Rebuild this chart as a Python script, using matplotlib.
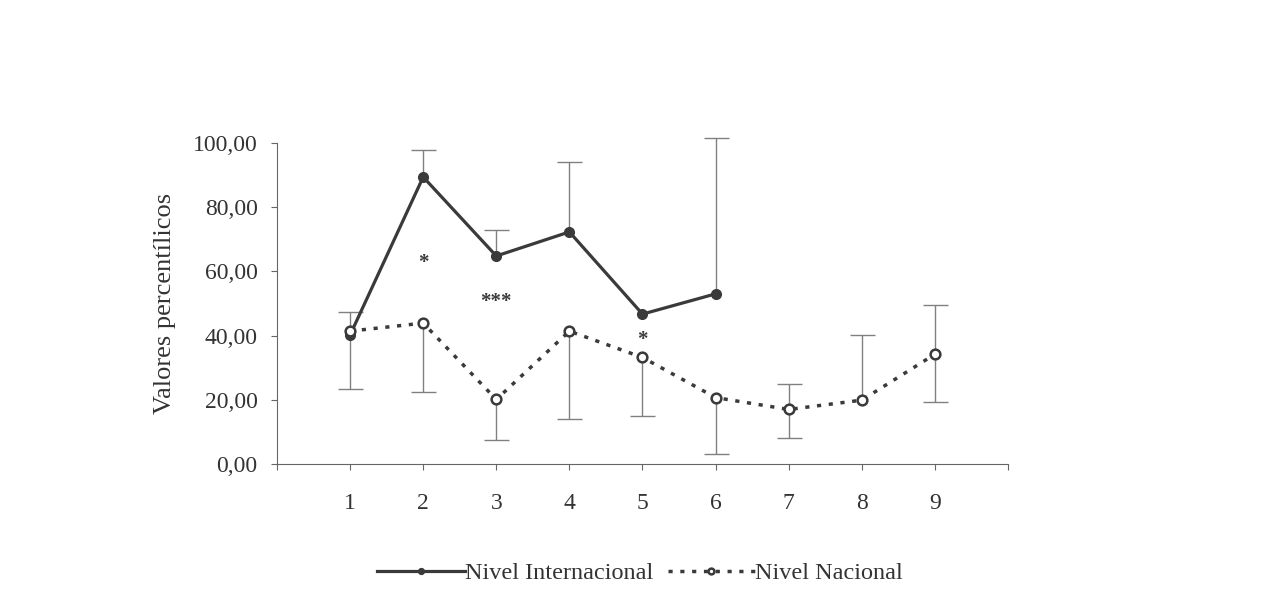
import matplotlib.pyplot as plt
import numpy as np

plt.rcParams['font.family'] = ['Liberation Serif', 'DejaVu Serif']

# data
x_int = [1, 2, 3, 4, 5, 6]
internacional = [40.2, 89.4, 64.8, 72.3, 46.7, 53.0]
int_upper = [47.4, 97.8, 72.9, 94.0, 46.7, 101.6]

x_nac = [1, 2, 3, 4, 5, 6, 7, 8, 9]
nacional = [41.4, 43.9, 20.1, 41.4, 33.2, 20.7, 17.0, 19.9, 34.2]
nac_lower = [23.4, 22.4, 7.5, 14.0, 15.1, 3.0, 8.2, 19.9, 19.3]
nac_upper = [41.4, 43.9, 20.1, 41.4, 33.2, 20.7, 24.9, 40.2, 49.5]

stars = ['*', '***', '*']
star_x = [2, 3, 5]
star_y = [62.5, 50.5, 38.5]

col = '#3a3a3a'
ecol = '#808080'

fig = plt.figure(figsize=(12.8, 6.1), dpi=100)
ax = fig.add_axes([0.2164, 0.2393, 0.5711, 0.5263])


def one_sided(xs, vals, ends, up):
    # draw only the bars that exist, with a cap only on the far end
    xs = np.array(xs, float)
    vals = np.array(vals, float)
    ends = np.array(ends, float)
    keep = np.abs(ends - vals) > 0.01
    d = np.abs(ends - vals)[keep]
    z = np.zeros_like(d)
    err = [z, d] if up else [d, z]
    _, caps, _ = ax.errorbar(xs[keep], vals[keep], yerr=err, fmt='none',
                             ecolor=ecol, elinewidth=1, capsize=9, capthick=1,
                             clip_on=False)
    caps[0 if up else 1].set_visible(False)
    for c in caps:
        c.set_clip_on(False)


one_sided(x_int, internacional, int_upper, True)
one_sided(x_nac, nacional, nac_lower, False)
one_sided(x_nac, nacional, nac_upper, True)

ax.plot(x_int, internacional, color=col, lw=2.3, marker='o', ms=7,
        label='Nivel Internacional', clip_on=False, zorder=3)
ax.plot(x_nac, nacional, color=col, lw=2.5, linestyle=(0, (1.2, 2.2)),
        marker='o', ms=7, mfc='white', mec=col, mew=1.8,
        label='Nivel Nacional', clip_on=False, zorder=3)

for s, sx, sy in zip(stars, star_x, star_y):
    ax.text(sx, sy, s, ha='center', va='center', fontsize=15, color=col,
            fontweight='bold')

ax.set_xlim(0, 10)
ax.set_ylim(0, 100)
ax.set_xticks(range(0, 11))
ax.set_xticklabels([''] + [str(i) for i in range(1, 10)] + [''])
ax.set_yticks([0, 20, 40, 60, 80, 100])
ax.set_yticklabels(['0,00', '20,00', '40,00', '60,00', '80,00', '100,00'])
ax.tick_params(axis='both', labelsize=17, colors='#333333', length=4)
ax.tick_params(axis='x', pad=17, color='#666666')
ax.tick_params(axis='y', pad=10, color='#666666')
ax.spines['top'].set_visible(False)
ax.spines['right'].set_visible(False)
ax.spines['left'].set_color('#666666')
ax.spines['bottom'].set_color('#666666')
ax.set_ylabel('Valores percentílicos', fontsize=19, color='#333333', labelpad=12)

leg = fig.legend(loc='center', bbox_to_anchor=(0.5, 0.06), ncol=2, frameon=False,
                 fontsize=17.5, markerscale=0.6, handlelength=3.6, columnspacing=0.6,
                 handletextpad=0.0)
for t in leg.get_texts():
    t.set_color('#333333')

fig.savefig('out.png', dpi=100, facecolor='white')
